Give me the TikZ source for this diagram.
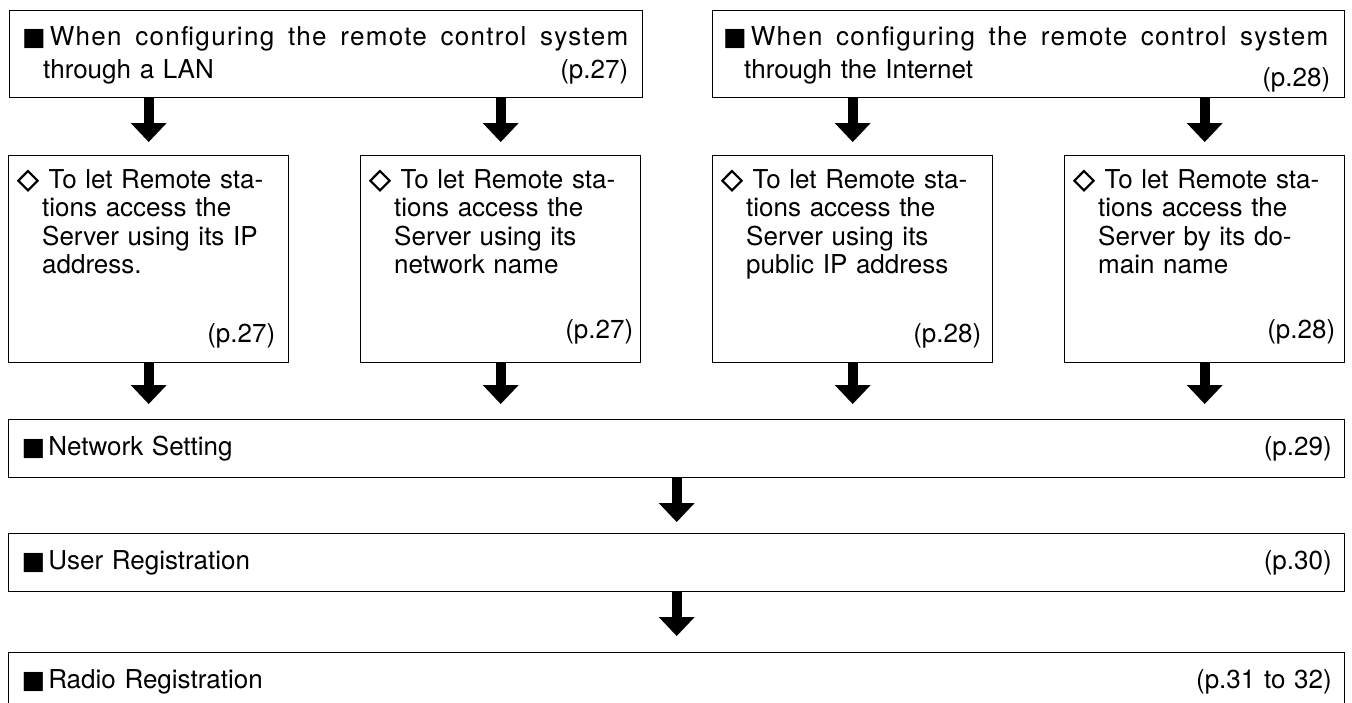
\documentclass[tikz,border=0pt]{standalone}
\usepackage{fontspec}
\setmainfont{TeX Gyre Heros}
\newfontfamily\symfont{DejaVu Sans}
\newfontfamily\dmdfont[FakeBold=2.5]{DejaVu Sans}
\usetikzlibrary{arrows.meta}
\newcommand{\sq}{{\symfont\fontsize{25}{25}\selectfont ■}}
\newcommand{\dmd}{{\dmdfont\fontsize{28}{28}\selectfont ◇}}
\newcommand{\ind}{\hspace*{21pt}}
\newcommand{\indm}{\hspace*{25pt}}

\begin{document}
\begin{tikzpicture}[x=1pt, y=-1pt,
    box/.style={draw, line width=1.4pt, inner sep=0pt, anchor=north west},
    txt/.style={inner sep=0pt, anchor=base west, align=left, font=\fontsize{26}{28.5}\selectfont},
    pg/.style={inner sep=0pt, anchor=base east, font=\fontsize{26}{28.5}\selectfont},
    wide/.style={draw, line width=1.4pt, anchor=north west, inner xsep=13pt, inner ysep=0pt,
      text width=1310pt, minimum height=58pt, align=left, font=\fontsize{26}{28.5}\selectfont},
    flow/.style={line width=10pt, -{Triangle[width=36pt, length=19pt, line width=0pt]}, shorten >=13pt}]

  \useasboundingbox (0,0) rectangle (1352,702);

  % top boxes (LAN / Internet)
  \node[box, minimum width=633pt, minimum height=87pt] (top1) at (9,10) {};
  \node[box, minimum width=632pt, minimum height=87pt] (top2) at (712,10) {};

  \node[txt, text width=606pt, font=\fontsize{26}{33}\selectfont] (top1txt)
    at ([xshift=13pt, yshift=-35pt]top1.north west)
    {\makebox[\linewidth][s]{\spaceskip=0pt\relax\sq\hspace{4pt}\addfontfeature{LetterSpace=5}When configuring the remote control system}\\
     \ind through a LAN};
  \node[txt, text width=605pt, font=\fontsize{26}{33}\selectfont] (top2txt)
    at ([xshift=11pt, yshift=-35pt]top2.north west)
    {\makebox[\linewidth][s]{\spaceskip=0pt\relax\sq\hspace{4pt}\addfontfeature{LetterSpace=5}When configuring the remote control system}\\
     \ind through the Internet};
  \node[pg] (top1pg) at ([xshift=-15pt, yshift=20pt]top1.south east) {(p.27)};
  \node[pg] (top2pg) at ([xshift=-15pt, yshift=12pt]top2.south east) {(p.28)};

  % four access ways
  \node[box, minimum width=280pt, minimum height=207pt] (mid1) at (8,155) {};
  \node[box, minimum width=280pt, minimum height=207pt] (mid2) at (360,155) {};
  \node[box, minimum width=280pt, minimum height=207pt] (mid3) at (712,155) {};
  \node[box, minimum width=280pt, minimum height=207pt] (mid4) at (1064,155) {};

  \node[txt, text width=266pt] (mid1txt) at ([xshift=9pt, yshift=-33pt]mid1.north west)
    {\dmd\hspace{10pt}To let Remote sta-\\ \indm tions access the\\ \indm Server using its IP\\ \indm address.};
  \node[txt, text width=266pt] (mid2txt) at ([xshift=9pt, yshift=-33pt]mid2.north west)
    {\dmd\hspace{10pt}To let Remote sta-\\ \indm tions access the\\ \indm Server using its\\ \indm network name};
  \node[txt, text width=266pt] (mid3txt) at ([xshift=9pt, yshift=-33pt]mid3.north west)
    {\dmd\hspace{10pt}To let Remote sta-\\ \indm tions access the\\ \indm Server using its\\ \indm public IP address};
  \node[txt, text width=266pt] (mid4txt) at ([xshift=9pt, yshift=-33pt]mid4.north west)
    {\dmd\hspace{10pt}To let Remote sta-\\ \indm tions access the\\ \indm Server by its do-\\ \indm main name};

  \node[pg] (mid1pg) at ([xshift=-14pt, yshift=21pt]mid1.south east) {(p.27)};
  \node[pg] (mid2pg) at ([xshift=-8pt, yshift=25pt]mid2.south east) {(p.27)};
  \node[pg] (mid3pg) at ([xshift=-12pt, yshift=21pt]mid3.south east) {(p.28)};
  \node[pg] (mid4pg) at ([xshift=-10pt, yshift=25pt]mid4.south east) {(p.28)};

  % settings, in order
  \node[wide] (net) at (8,419) {\sq\hspace{3pt}Network Setting\hfill(p.29)};
  \node[wide] (user) at (8,533) {\sq\hspace{3pt}User Registration\hfill(p.30)};
  \node[wide] (radio) at (8,652) {\sq\hspace{3pt}Radio Registration\hfill(p.31 to 32)};

  \draw[flow] (top1.south -| mid1.north) -- (mid1.north);
  \draw[flow] (top1.south -| mid2.north) -- (mid2.north);
  \draw[flow] (top2.south -| mid3.north) -- (mid3.north);
  \draw[flow] (top2.south -| mid4.north) -- (mid4.north);

  \draw[flow, shorten >=15pt] (mid1.south) -- (mid1.south |- net.north);
  \draw[flow, shorten >=15pt] (mid2.south) -- (mid2.south |- net.north);
  \draw[flow, shorten >=15pt] (mid3.south) -- (mid3.south |- net.north);
  \draw[flow, shorten >=15pt] (mid4.south) -- (mid4.south |- net.north);

  \draw[flow, shorten >=11pt] (net.south) -- (user.north);
  \draw[flow, shorten >=16pt] (user.south) -- (radio.north);
\end{tikzpicture}
\end{document}
